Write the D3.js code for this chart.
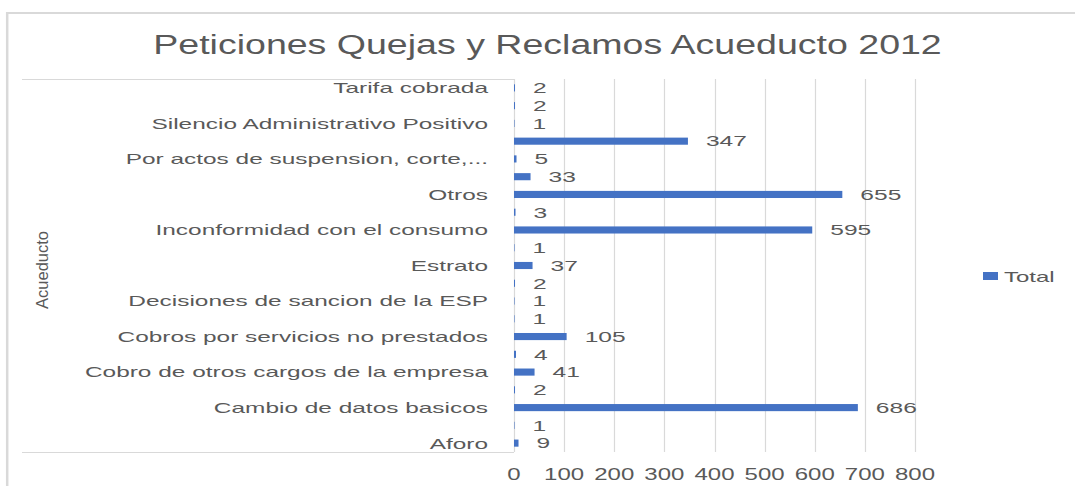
<!DOCTYPE html>
<html>
<head>
<meta charset="utf-8">
<script src="https://cdn.jsdelivr.net/npm/d3@7"></script>
<style>
  html, body { margin: 0; padding: 0; background: #ffffff; }
  svg { display: block; }
  text { font-family: "Liberation Sans", Arial, sans-serif; fill: #595959; }
</style>
</head>
<body>
<svg id="chart" width="1075" height="486"></svg>
<script>
// ---- Data (bottom-to-top order, as in the source table) ----
const categories = [
  "Aforo",
  "Calidad del agua",
  "Cambio de datos basicos",
  "Cobro de consumos anteriores",
  "Cobro de otros cargos de la empresa",
  "Cobro por reconexion",
  "Cobros por servicios no prestados",
  "Condiciones de seguridad del servicio",
  "Decisiones de sancion de la ESP",
  "Entrega y oportunidad de la factura",
  "Estrato",
  "Falla en la prestacion del servicio",
  "Inconformidad con el consumo",
  "Instalacion del medidor",
  "Otros",
  "Pago sin abono a cuenta",
  "Por actos de suspension, corte,...",
  "Prestacion del servicio",
  "Silencio Administrativo Positivo",
  "Subsidios y contribuciones",
  "Tarifa cobrada"
];
const totals = [9, 1, 686, 2, 41, 4, 105, 1, 1, 2, 37, 1, 595, 3, 655, 33, 5, 347, 1, 2, 2];
const xTicks = [0, 100, 200, 300, 400, 500, 600, 700, 800];
const chartTitle = "Peticiones Quejas y Reclamos Acueducto 2012";
const axisTitle = "Acueducto";
const seriesName = "Total";

// ---- Layout ----
const svg = d3.select("#chart");
const plot = { left: 514, right: 915, top: 79, bottom: 452 };
const gridColor = "#d9d9d9";
const barColor = "#4472C4";

// horizontal stretch applied to text glyphs
function stretched(sel, x, y, sx, sy) {
  sel.attr("x", 0).attr("y", 0)
     .attr("transform", `translate(${x},${y}) scale(${sx},${sy || 1})`);
  return sel;
}

const x = d3.scaleLinear().domain([0, 800]).range([plot.left, plot.right]);
const y = d3.scaleBand()
  .domain(categories.slice().reverse())
  .range([plot.top, plot.bottom])
  .paddingInner(0.6)
  .paddingOuter(0.3);

// Outer chart border (left + top visible)
svg.append("line").attr("x1", 7.2).attr("x2", 7.2).attr("y1", 12).attr("y2", 486)
  .attr("stroke", gridColor).attr("stroke-width", 2.5);
svg.append("line").attr("x1", 6).attr("x2", 1075).attr("y1", 13).attr("y2", 13)
  .attr("stroke", gridColor).attr("stroke-width", 2);

// Plot area lines at left of the axis
svg.append("line").attr("x1", 22).attr("x2", plot.left).attr("y1", plot.top + 0.5).attr("y2", plot.top + 0.5)
  .attr("stroke", gridColor).attr("stroke-width", 1);
svg.append("line").attr("x1", 22).attr("x2", plot.left).attr("y1", plot.bottom + 0.5).attr("y2", plot.bottom + 0.5)
  .attr("stroke", gridColor).attr("stroke-width", 1);

// Vertical gridlines
svg.append("g").selectAll("line").data(xTicks).join("line")
  .attr("x1", d => Math.round(x(d)) + 0.5).attr("x2", d => Math.round(x(d)) + 0.5)
  .attr("y1", plot.top).attr("y2", plot.bottom)
  .attr("stroke", gridColor).attr("stroke-width", 1.2);

// X tick labels
svg.append("g").selectAll("text").data(xTicks).join("text")
  .attr("text-anchor", "middle")
  .style("font-size", "16px")
  .text(d => d)
  .each(function(d) { stretched(d3.select(this), x(d), 479.5, 1.5); });

// Bars
svg.append("g").selectAll("rect").data(categories).join("rect")
  .attr("x", x(0))
  .attr("y", d => y(d))
  .attr("width", (d, i) => Math.max(0, x(totals[i]) - x(0)))
  .attr("height", y.bandwidth())
  .attr("fill", barColor);

// Data labels
svg.append("g").selectAll("text").data(categories).join("text")
  .style("font-size", "14.8px")
  .text((d, i) => totals[i])
  .each(function(d, i) {
    stretched(d3.select(this), x(totals[i]) + 18, y(d) + y.bandwidth() / 2 + 5.3, 1.66);
  });

// Category labels (every other one, as in the source)
svg.append("g").selectAll("text").data(categories.filter((d, i) => i % 2 === 0)).join("text")
  .attr("text-anchor", "end")
  .style("font-size", "14.8px")
  .text(d => d)
  .each(function(d) {
    stretched(d3.select(this), 488, y(d) + y.bandwidth() / 2 + 5.4, 1.65);
  });

// Title
stretched(svg.append("text").attr("text-anchor", "middle").style("font-size", "27px").text(chartTitle),
  547.5, 54, 1.39);

// Axis title (rotated)
svg.append("text")
  .attr("text-anchor", "middle")
  .style("font-size", "15px")
  .text(axisTitle)
  .attr("transform", "translate(48,270) rotate(-90) scale(1.1,1.15)");

// Legend
svg.append("rect").attr("x", 983).attr("y", 272).attr("width", 15).attr("height", 8).attr("fill", barColor);
stretched(svg.append("text").style("font-size", "15px").text(seriesName), 1004, 282, 1.6);
</script>
</body>
</html>
